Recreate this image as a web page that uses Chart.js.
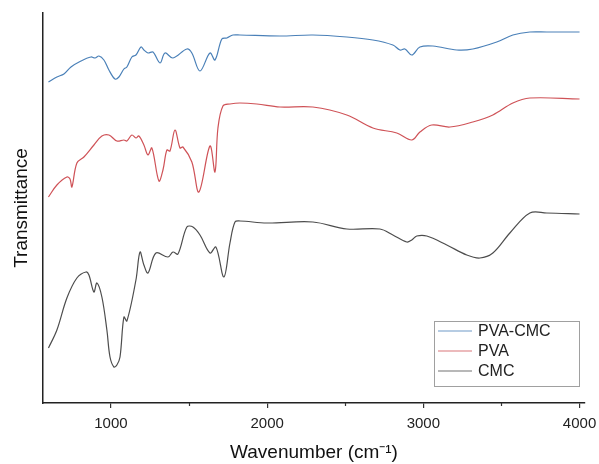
<!DOCTYPE html>
<html>
<head>
<meta charset="utf-8">
<script src="https://cdn.jsdelivr.net/npm/chart.js@4/dist/chart.umd.min.js"></script>
<style>
  html, body { margin: 0; padding: 0; background: #fff; }
  #wrap { width: 599px; height: 464px; }
</style>
</head>
<body>
<div id="wrap"><canvas id="chart" width="599" height="464"></canvas></div>
<script>
// FTIR spectra, transmittance in arbitrary units (offset curves)
const labels = ['PVA-CMC', 'PVA', 'CMC'];
const colors = ['#4a80b8', '#cf5257', '#4d4d4d'];

const blendWave = [600, 654, 699, 744, 808, 872, 898, 923, 955, 987, 1026, 1051, 1083, 1102, 1134, 1160, 1192, 1211, 1237, 1269, 1314, 1346, 1397, 1486, 1518, 1570, 1634, 1666, 1710, 1742, 1781, 1826, 2082, 2293, 2510, 2677, 2805, 2850, 2882, 2926, 2978, 3061, 3214, 3317, 3470, 3573, 3682, 3790, 4000];
const blendT = [321, 326, 329, 336, 342, 346, 345, 347, 343, 333, 324, 326, 334, 336, 346, 348, 356, 353, 350, 351, 340, 350, 345, 354, 350, 332, 350, 343, 364, 365, 368, 368, 367, 368, 366, 363, 358, 353, 354, 348, 356, 357, 353, 354, 361, 368, 371, 371, 371];

const pvaWave = [600, 654, 718, 738, 750, 782, 827, 891, 942, 987, 1038, 1083, 1102, 1134, 1160, 1179, 1211, 1237, 1262, 1307, 1333, 1358, 1378, 1410, 1442, 1461, 1518, 1563, 1634, 1666, 1685, 1717, 1762, 1826, 1934, 2082, 2293, 2510, 2677, 2830, 2926, 2978, 3054, 3170, 3317, 3445, 3573, 3682, 4000];
const pvaT = [206, 218, 226, 224, 216, 240, 246, 258, 267, 268, 262, 263, 262, 268, 265, 267, 258, 248, 255, 222, 233, 253, 252, 273, 255, 256, 241, 211, 257, 231, 275, 297, 299, 300, 299, 296, 296, 288, 275, 270, 263, 271, 278, 276, 281, 288, 300, 305, 304];

const cmcWave = [600, 654, 718, 782, 840, 859, 891, 910, 942, 974, 994, 1019, 1038, 1058, 1083, 1102, 1160, 1186, 1211, 1237, 1288, 1365, 1397, 1429, 1486, 1525, 1570, 1634, 1672, 1723, 1762, 1794, 1826, 1998, 2293, 2510, 2722, 2805, 2894, 2926, 2958, 3022, 3150, 3278, 3362, 3445, 3554, 3682, 3790, 4000];
const cmcT = [55, 73, 105, 125, 131, 128, 111, 120, 106, 73, 46, 36, 38, 46, 86, 82, 123, 151, 138, 130, 150, 146, 151, 149, 176, 176, 168, 150, 156, 126, 160, 181, 182, 180, 181, 174, 174, 168, 161, 163, 167, 167, 158, 148, 145, 150, 170, 190, 190, 189];

const majorTicks = [1000, 2000, 3000, 4000];
const minorTicks = [1500, 2500, 3500];

function pts(xs, ys) {
  return xs.map((x, i) => ({ x: x, y: ys[i] }));
}

const series = [pts(blendWave, blendT), pts(pvaWave, pvaT), pts(cmcWave, cmcT)];
const FONT = '"Liberation Sans", Arial, sans-serif';

// minor ticks on the x axis + boxed legend in the lower right
const extras = {
  id: 'extras',
  afterDraw(chart) {
    const ctx = chart.ctx;
    const xs = chart.scales.x;
    const area = chart.chartArea;
    ctx.save();
    ctx.strokeStyle = '#333';
    ctx.lineWidth = 1.2;
    minorTicks.forEach((v) => {
      const px = Math.round(xs.getPixelForValue(v)) + 0.5;
      ctx.beginPath();
      ctx.moveTo(px, area.bottom);
      ctx.lineTo(px, area.bottom + 3);
      ctx.stroke();
    });

    const bx = area.right - 151, by = area.bottom - 82, bw = 145, bh = 65;
    ctx.fillStyle = '#fff';
    ctx.fillRect(bx, by, bw, bh);
    ctx.strokeStyle = '#a0a0a0';
    ctx.lineWidth = 1;
    ctx.strokeRect(bx + 0.5, by + 0.5, bw, bh);
    ctx.font = '16px ' + FONT;
    ctx.textBaseline = 'middle';
    chart.data.datasets.forEach((ds, i) => {
      const y = by + 10 + i * 20;
      ctx.strokeStyle = ds.borderColor;
      ctx.globalAlpha = 0.8;
      ctx.lineWidth = 1.2;
      ctx.beginPath();
      ctx.moveTo(bx + 4, y);
      ctx.lineTo(bx + 38, y);
      ctx.stroke();
      ctx.globalAlpha = 1;
      ctx.fillStyle = '#222';
      ctx.fillText(ds.label, bx + 44, y + 1);
    });
    ctx.restore();
  }
};

new Chart(document.getElementById('chart'), {
  type: 'line',
  data: {
    datasets: labels.map((l, i) => ({
      label: l,
      data: series[i],
      borderColor: colors[i],
      borderWidth: 1.2,
      pointRadius: 0,
      tension: 0.35,
      fill: false
    }))
  },
  options: {
    responsive: false,
    animation: false,
    layout: { padding: { top: 13, right: 14, left: 0, bottom: 0 } },
    plugins: {
      legend: { display: false },
      tooltip: { enabled: false }
    },
    scales: {
      x: {
        type: 'linear',
        min: 565,
        max: 4035,
        afterFit: (s) => { s.height = 61; s.paddingLeft = 0; s.paddingRight = 0; },
        afterBuildTicks: (s) => { s.ticks = majorTicks.map((v) => ({ value: v })); },
        grid: { drawOnChartArea: false, drawTicks: true, tickLength: 5, color: '#333', lineWidth: 1.2 },
        border: { display: true, color: '#222', width: 1.5 },
        ticks: {
          padding: 7,
          maxRotation: 0,
          color: '#222',
          font: { family: FONT, size: 15 },
          callback: (v) => String(v)
        },
        title: {
          display: true,
          text: 'Wavenumber (cm⁻¹)',
          color: '#111',
          padding: { top: 0, bottom: 0 },
          font: { family: FONT, size: 19 }
        }
      },
      y: {
        min: 0,
        max: 390,
        afterFit: (s) => { s.width = 43; },
        grid: { display: false },
        border: { display: true, color: '#222', width: 1.5 },
        ticks: { display: false },
        title: {
          display: true,
          text: 'Transmittance',
          color: '#111',
          padding: { top: 10, bottom: 0 },
          font: { family: FONT, size: 19 }
        }
      }
    }
  },
  plugins: [extras]
});
</script>
</body>
</html>
